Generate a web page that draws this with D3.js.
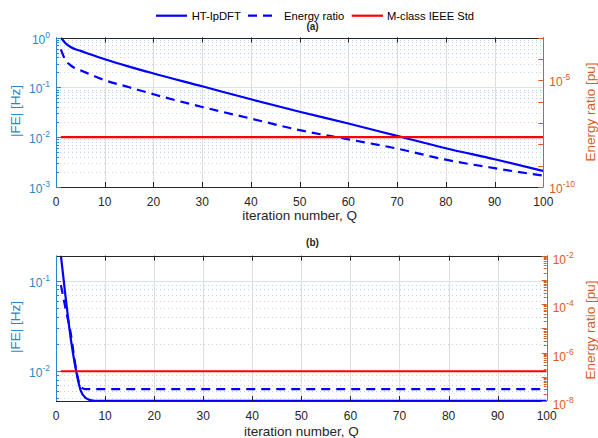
<!DOCTYPE html>
<html><head><meta charset="utf-8">
<script src="https://cdn.jsdelivr.net/npm/d3@7"></script>
<style>body{margin:0;background:#fff} svg{font-family:"Liberation Sans",Arial,Helvetica,sans-serif}</style>
</head><body><svg id="c" width="598" height="438"></svg>
<script>
// ---------- data ----------
const xTickValues = [0,10,20,30,40,50,60,70,80,90,100];
// panel (a)
const Q_a  = [1,2,3,4,5,7,10,15,20,30,40,50,60,70,80,90,100];
const FE_a = [1.0,0.76,0.645,0.58,0.54,0.46,0.365,0.26,0.19,0.105,0.0575,0.0324,0.0188,0.0106,0.006,0.0036,0.0021];
const ER_a = [2.8e-4,8.3e-5,5e-5,3.6e-5,2.9e-5,1.9e-5,1.0e-5,4.7e-6,2.2e-6,5.6e-7,1.6e-7,4.6e-8,1.7e-8,6.3e-9,1.9e-9,7.6e-10,3.4e-10];
// panel (b)
const Q_b  = [1,2,3,4,5,6,7,8,10,20,30,40,50,60,70,80,90,100];
const FE_b = [0.19,0.063,0.023,0.0108,0.0062,0.0051,0.0048,0.0047,0.0047,0.0047,0.0047,0.0047,0.0047,0.0047,0.0047,0.0047,0.0047,0.0047];
const ER_b = [6.2e-4,5.8e-5,6.3e-6,2.7e-7,4.0e-8,3.1e-8,3.1e-8,3.1e-8,3.1e-8,3.1e-8,3.1e-8,3.1e-8,3.1e-8,3.1e-8,3.1e-8,3.1e-8,3.1e-8,3.1e-8];
// M-class IEEE Std limit
const Q_limit = [1,100];
const FE_limit = 0.01;
// axis tick labels (exponents)
const leftExp_a = [0,-1,-2,-3];
const rightExp_a = [-5,-10];
const leftExp_b = [-1,-2];
const rightExp_b = [-2,-4,-6,-8];
const legendNames = ["HT-IpDFT","Energy ratio","M-class IEEE Std"];

// ---------- style ----------
const LEFT_COL = "#2a86c8", RIGHT_COL = "#dd5a22", AX = "#262626";
const BLUE = "#0000ff", RED = "#ff0000";
const svg = d3.select("#c");

function logMajors(dom){const a=[];for(let e=Math.ceil(Math.log10(dom[0])-1e-9);e<=Math.floor(Math.log10(dom[1])+1e-9);e++)a.push(Math.pow(10,e));return a;}
function logMinors(dom){const a=[];for(let e=Math.floor(Math.log10(dom[0]));e<=Math.ceil(Math.log10(dom[1]));e++)for(let m=2;m<=9;m++){const v=m*Math.pow(10,e);if(v>=dom[0]&&v<=dom[1])a.push(v);}return a;}
const px = v => Math.round(v)+0.5;

function supLabel(g,x,y,exp,anchor,color){
  const t=g.append("text").attr("x",x).attr("y",y).attr("text-anchor",anchor)
    .attr("fill",color).attr("font-size",12);
  t.append("tspan").text("10");
  t.append("tspan").attr("dy",-6).attr("font-size",8.5).text(String(exp));
}

let clipId=0;
function panel(p){
  const g=svg.append("g");
  const x=d3.scaleLinear().domain([0,100]).range([p.x0,p.x1]);
  const yL=d3.scaleLog().domain(p.leftDom).range([p.y1,p.y0]);
  const yR=d3.scaleLog().domain(p.rightDom).range([p.y1,p.y0]);

  // grids
  g.selectAll(null).data(xTickValues.filter(d=>d>0&&d<100)).join("line")
    .attr("x1",d=>px(x(d))).attr("x2",d=>px(x(d))).attr("y1",p.y0).attr("y2",p.y1)
    .attr("stroke","#dedede");
  g.selectAll(null).data(logMinors(p.leftDom)).join("line")
    .attr("x1",p.x0).attr("x2",p.x1).attr("y1",d=>px(yL(d))).attr("y2",d=>px(yL(d)))
    .attr("stroke","#b9d6ee").attr("stroke-dasharray","1,3");
  g.selectAll(null).data(logMajors(p.leftDom)).join("line")
    .attr("x1",p.x0).attr("x2",p.x1).attr("y1",d=>px(yL(d))).attr("y2",d=>px(yL(d)))
    .attr("stroke","#d3e6f5");

  // clip
  const id="clip"+(clipId++);
  svg.append("clipPath").attr("id",id).append("rect")
    .attr("x",p.x0).attr("y",p.y0).attr("width",p.x1-p.x0).attr("height",p.y1-p.y0+2);
  const dg=g.append("g").attr("clip-path",`url(#${id})`);

  const lineL=d3.line().x((d,i)=>x(p.Q[i])).y(d=>yL(d)).curve(d3.curveMonotoneX);
  const lineR=d3.line().x((d,i)=>x(p.Q[i])).y(d=>yR(d)).curve(d3.curveMonotoneX);
  dg.append("path").attr("d",lineR(p.ER)).attr("fill","none").attr("stroke",BLUE)
    .attr("stroke-width",2.2).attr("stroke-dasharray","9,6");
  dg.append("path").attr("d",lineL(p.FE)).attr("fill","none").attr("stroke",BLUE)
    .attr("stroke-width",2.2);
  dg.append("line").attr("x1",x(Q_limit[0])).attr("x2",x(Q_limit[1]))
    .attr("y1",yL(FE_limit)).attr("y2",yL(FE_limit)).attr("stroke",RED).attr("stroke-width",2.2);

  // box
  g.append("line").attr("x1",p.x0).attr("x2",p.x1).attr("y1",px(p.y0)).attr("y2",px(p.y0)).attr("stroke",AX);
  g.append("line").attr("x1",p.x0).attr("x2",p.x1).attr("y1",px(p.y1)).attr("y2",px(p.y1)).attr("stroke",AX);
  // x ticks
  g.selectAll(null).data(xTickValues).join("line")
    .attr("x1",d=>px(x(d))).attr("x2",d=>px(x(d))).attr("y1",p.y1).attr("y2",p.y1-5).attr("stroke",AX);
  g.selectAll(null).data(xTickValues).join("line")
    .attr("x1",d=>px(x(d))).attr("x2",d=>px(x(d))).attr("y1",p.y0).attr("y2",p.y0+5).attr("stroke",AX);
  g.selectAll(null).data(xTickValues).join("text")
    .attr("x",d=>x(d)).attr("y",p.y1+19).attr("text-anchor","middle").attr("font-size",12)
    .attr("fill",AX).text(d=>d);
  g.append("text").attr("x",(p.x0+p.x1)/2).attr("y",p.xTitleY).attr("text-anchor","middle")
    .attr("font-size",13.5).attr("fill",AX).text("iteration number, Q");

  // left axis
  g.append("line").attr("x1",px(p.x0)).attr("x2",px(p.x0)).attr("y1",p.y0).attr("y2",p.y1).attr("stroke",LEFT_COL);
  g.selectAll(null).data(logMajors(p.leftDom)).join("line")
    .attr("x1",p.x0).attr("x2",p.x0+5).attr("y1",d=>px(yL(d))).attr("y2",d=>px(yL(d))).attr("stroke",LEFT_COL);
  g.selectAll(null).data(logMinors(p.leftDom)).join("line")
    .attr("x1",p.x0).attr("x2",p.x0+3).attr("y1",d=>px(yL(d))).attr("y2",d=>px(yL(d))).attr("stroke",LEFT_COL);
  p.leftExp.forEach(e=>supLabel(g,p.x0-6,yL(Math.pow(10,e))+p.lblDy,e,"end",LEFT_COL));
  g.append("text").attr("transform",`translate(19.5,${p.ytc}) rotate(-90)`).attr("text-anchor","middle")
    .attr("font-size",13.5).attr("fill",LEFT_COL).text("|FE| [Hz]");

  // right axis
  g.append("line").attr("x1",px(p.x1)).attr("x2",px(p.x1)).attr("y1",p.y0).attr("y2",p.y1).attr("stroke",RIGHT_COL);
  g.selectAll(null).data(logMajors(p.rightDom)).join("line")
    .attr("x1",p.x1).attr("x2",p.x1-5).attr("y1",d=>px(yR(d))).attr("y2",d=>px(yR(d))).attr("stroke",RIGHT_COL);
  if(p.rightMinor){
    g.selectAll(null).data(logMinors(p.rightDom)).join("line")
      .attr("x1",p.x1).attr("x2",p.x1-3).attr("y1",d=>px(yR(d))).attr("y2",d=>px(yR(d))).attr("stroke",RIGHT_COL);
  }
  p.rightExp.forEach(e=>supLabel(g,p.x1+6,yR(Math.pow(10,e))+p.lblDyR,e,"start",RIGHT_COL));
  g.append("text").attr("transform",`translate(594.5,${p.ytc+p.rtOff}) rotate(-90)`).attr("text-anchor","middle")
    .attr("font-size",13.5).attr("fill",RIGHT_COL).text("Energy ratio [pu]");

  // panel label
  g.append("text").attr("x",312.5).attr("y",p.labY).attr("text-anchor","middle")
    .attr("font-size",10).attr("font-weight","bold").attr("fill",AX).text(p.label);
}

panel({x0:56,x1:543.3,y0:37.5,y1:187,leftDom:[1e-3,1],rightDom:[1e-10,1e-3],
  Q:Q_a,FE:FE_a,ER:ER_a,leftExp:leftExp_a,rightExp:rightExp_a,rightMinor:false,
  xTitleY:220,ytc:111,rtOff:1,label:"(a)",labY:30,lblDy:6,lblDyR:6});
panel({x0:56,x1:546.7,y0:255.7,y1:401,leftDom:[0.00469,0.189],rightDom:[1e-8,1e-2],
  Q:Q_b,FE:FE_b,ER:ER_b,leftExp:leftExp_b,rightExp:rightExp_b,rightMinor:true,
  xTitleY:435.5,ytc:327,rtOff:3,label:"(b)",labY:245.5,lblDy:6,lblDyR:8});

// legend
const lg=svg.append("g");
const items=[{x1:156,x2:187,tx:191.7,dash:null,col:BLUE},{x1:248,x2:274,tx:284,dash:"9,6",col:BLUE},{x1:351.7,x2:383,tx:387,dash:null,col:RED}];
items.forEach((it,i)=>{
  lg.append("line").attr("x1",it.x1).attr("x2",it.x2).attr("y1",15.7).attr("y2",15.7)
    .attr("stroke",it.col).attr("stroke-width",2.2).attr("stroke-dasharray",it.dash);
  lg.append("text").attr("x",it.tx).attr("y",20).attr("font-size",11.2).attr("fill","#000").text(legendNames[i]);
});
</script></body></html>
